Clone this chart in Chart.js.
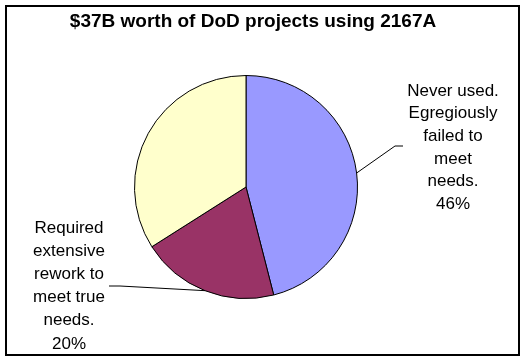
<!DOCTYPE html>
<html>
<head>
<meta charset="utf-8">
<script src="https://cdn.jsdelivr.net/npm/chart.js@4/dist/chart.umd.min.js"></script>
<style>
html,body{margin:0;padding:0;background:#fff;}
canvas{display:block;}
</style>
</head>
<body>
<canvas id="c" width="525" height="360"></canvas>
<script>
const chartTitle = "$37B worth of DoD projects using 2167A";
const categories = [
  "Never used.\nEgregiously\nfailed to\nmeet\nneeds.",
  "Required\nextensive\nrework to\nmeet true\nneeds.",
  ""
];
const values = [46, 20, 34];
const colors = ["#9999FF", "#993366", "#FFFFCC"];
const showLabel = [true, true, false];

const FONT = '"Liberation Sans", Arial, sans-serif';

// label layout (positions only)
const labelLayout = [
  {elbow:[395,146], end:[403,146], textX:453, textY:91, gap:22.7},
  {elbow:[120,286], end:[109,286], textX:69, textY:228, gap:23.2}
];

const decor = {
  id: 'decor',
  beforeDraw(chart) {
    const ctx = chart.ctx;
    ctx.save();
    ctx.fillStyle = '#fff';
    ctx.fillRect(0, 0, chart.width, chart.height);
    ctx.strokeStyle = '#000';
    ctx.lineWidth = 2;
    ctx.strokeRect(6, 6, 513, 349);
    ctx.fillStyle = '#000';
    ctx.font = 'bold 19px ' + FONT;
    ctx.textAlign = 'center';
    ctx.textBaseline = 'middle';
    ctx.fillText(chartTitle, 253, 22);
    ctx.restore();
  },
  afterDatasetsDraw(chart) {
    const ctx = chart.ctx;
    const meta = chart.getDatasetMeta(0);
    const total = values.reduce((a, b) => a + b, 0);
    ctx.save();
    meta.data.forEach((arc, i) => {
      if (!showLabel[i]) return;
      const lay = labelLayout[i];
      const p = arc.getProps(['x','y','startAngle','endAngle','outerRadius'], true);
      const mid = (p.startAngle + p.endAngle) / 2;
      const ex = p.x + p.outerRadius * Math.cos(mid);
      const ey = p.y + p.outerRadius * Math.sin(mid);
      ctx.strokeStyle = '#000';
      ctx.lineWidth = 1;
      ctx.beginPath();
      ctx.moveTo(ex, ey);
      ctx.lineTo(lay.elbow[0], lay.elbow[1]);
      ctx.lineTo(lay.end[0], lay.end[1]);
      ctx.stroke();
      const lines = categories[i].split("\n");
      lines.push(Math.round(values[i] / total * 100) + "%");
      ctx.fillStyle = '#000';
      ctx.font = '17px ' + FONT;
      ctx.textAlign = 'center';
      ctx.textBaseline = 'middle';
      lines.forEach((t, k) => ctx.fillText(t, lay.textX, lay.textY + k * lay.gap));
    });
    ctx.restore();
  }
};

new Chart(document.getElementById('c'), {
  type: 'pie',
  data: {
    labels: categories,
    datasets: [{
      data: values,
      backgroundColor: colors,
      borderColor: '#000',
      borderWidth: 1,
      hoverOffset: 0
    }]
  },
  options: {
    responsive: false,
    animation: false,
    layout: { padding: { top: 75, left: 134, right: 167, bottom: 61 } },
    plugins: {
      legend: { display: false },
      tooltip: { enabled: false },
      title: { display: false }
    }
  },
  plugins: [decor]
});
</script>
</body>
</html>
